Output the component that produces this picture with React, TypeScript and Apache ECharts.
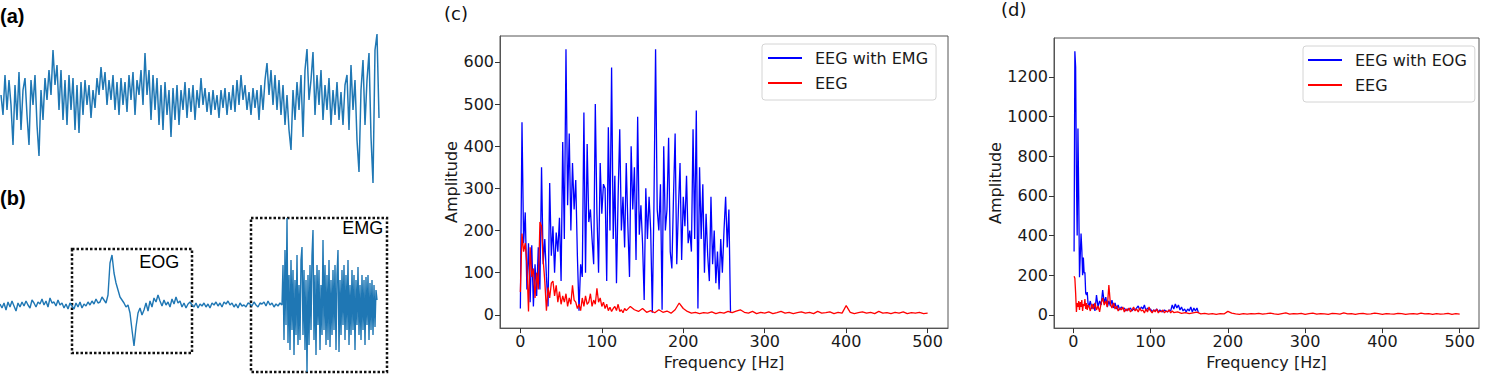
import React, { useEffect, useRef } from "react";
import * as echarts from "echarts";

// ---------- (a) raw EEG trace (amplitude, arbitrary units), sampled every 2 units of time ----------
const aSignal = [
  5, -15, 25, -10, 20, -5, -45, 15, -20, 28,
  -30, 10, 22, -15, -45, 20, -5, 25, -25, -56,
  10, -20, 22, 0, 30, 5, 50, 15, 35, -10,
  30, -20, 20, -25, 25, -10, 22, -30, 15, -33,
  18, -15, 20, -5, 15, -18, 10, -8, 22, 5,
  33, 10, 28, -5, 20, 0, 25, -10, 18, -15,
  22, -5, 18, -12, 25, 0, 28, -15, 20, 5,
  30, -5, 47, 5, 30, -20, 25, -10, 22, -25,
  15, -30, 18, -15, 10, -37, 12, -20, 15, -25,
  10, -10, 18, -18, 12, -12, 15, -20, 10, -8,
  22, -5, 12, -12, 8, -15, 10, -10, 5, -18,
  10, -8, 12, -15, 8, -10, 15, -12, 20, -5,
  25, 0, 15, -10, 8, -15, 12, -8, 10, -20,
  15, -10, 20, 37, 5, 30, -5, 25, -10, 20,
  -15, 15, -25, 5, -30, -50, 10, -20, 18, -10,
  25, -37, 30, 51, 0, 20, 48, -15, 25, -5,
  30, -20, 15, -10, 22, -25, 10, -15, 18, -20,
  8, -25, 15, 25, -30, 35, -10, 20, -40, -72,
  10, 40, -25, 20, 47, -37, -83, 50, 66, -18,
];

// ---------- (b) contaminated EEG: baseline + EOG part (step 2), EMG burst (step 1) ----------
const bBaseline = [
  1, -3, 2, -5, 3, -2,
  4, -1, -6, 2, -2, 3,
  -1, 4, 0, -3, 5, 2,
  -2, 3, 1, 6, 0, 4,
  -2, 7, 2, 3, -1, 5,
  0, 2, -3, 1, -4, 2,
  -1, -4, 2, -2, 3, -3,
  1, -1, 3, 0, 4, 1,
  6, 2, 3, 8, 5, 2,
  10, 42, 50, 32, 22, 15,
  8, 5, 2, -2, 0, -8,
  -25, -41, -22, -8, -3, -10,
  -5, 2, -6, 4, -2, 7,
  3, 10, 4, -1, 5, 0,
  3, -2, 6, 1, 8, 2,
  4, -2, 2, -3, 1, 3,
  0, -2, 2, -3, 1, -1,
  2, -2, 1, -3, 2, 0,
  3, -1, 2, -2, 3, 1,
  4, 0, 2, -2, 1, -3,
  2, -1, 0, -2, 2, 1,
  -1, 3, 0, -2, 2, 1,
  3, -1, 4, 0, 2, -2,
  1, -1, 2, 0,
];
const bEmgStart = 283;
const bEmg = [
  40, -35, 55, -20, 87, -38, 30, -45, 45, -25,
  35, -50, 25, -30, 50, -40, 20, -35, 45, 58,
  -30, 35, -45, 25, -67, 30, -40, 40, -25, 50,
  75, -35, 30, -50, 40, -20, 35, -45, 20, -30,
  65, -25, 40, -40, 30, -35, 45, -42, 25, -30,
  35, -25, 40, -45, 30, 55, -47, 25, -30, 35,
  -20, 40, -35, 30, -25, 45, -40, 20, -30, 35,
  -25, 30, -45, 25, -20, 38, -30, 20, -35, 30,
  -25, 25, -40, 28, -20, 30, -35, 22, -25, 25,
  -30, 20, -22, 15, 5,
];
// artifact windows [start, end] and vertical extent [top, bottom]
const eogWindow = [72, 192];
const eogExtent = [56, -48];
const emgWindow = [251, 387];
const emgExtent = [87, -67];

// ---------- (c) spectrum: EEG with EMG vs EEG ----------
const freqTicks = [0, 100, 200, 300, 400, 500];
const cAmpTicks = [0, 100, 200, 300, 400, 500, 600];
const cBlue = [
  15, 457, 170, 243, 60, 170, 30, 165, 20, 120,
  45, 160, 60, 350, 120, 180, 90, 20, 313, 140,
  210, 100, 195, 150, 230, 80, 410, 180, 630, 260,
  430, 200, 360, 250, 320, 140, 10, 120, 90, 480,
  100, 405, 220, 250, 180, 120, 500, 240, 100, 360,
  240, 310, 300, 80, 445, 200, 587, 180, 330, 75,
  280, 440, 200, 280, 160, 360, 210, 90, 400, 250,
  350, 130, 470, 190, 260, 170, 35, 300, 180, 280,
  200, 5, 260, 630, 250, 200, 310, 12, 400, 200,
  250, 420, 150, 110, 280, 430, 120, 250, 360, 130,
  280, 210, 330, 170, 200, 150, 440, 180, 485, 15,
  350, 180, 310, 100, 240, 140, 80, 280, 120, 200,
  75, 150, 60, 180, 100, 200, 280, 160, 250, 5,
];
const cRedLow = [
  54, 193, 150, 170, 120, 8, 160, 90, 110, 40,
  100, 60, 220, 210, 130, 80, 10, 65, 40, 75,
  80, 45, 70, 30, 55, 25, 45, 30, 50, 20,
  40, 25, 70, 35, 30, 15, 25, 10, 40, 20,
  45, 25, 30, 50, 20, 35, 25, 63, 30, 40,
  20, 30, 15, 25, 10, 18, 8, 15, 20, 10,
  25, 8, 12, 5, 15, 10,
];
const cRedHigh = [
  20, 12, 8, 15, 6, 10, 5, 12, 6, 9,
  4, 12, 28, 15, 8, 4, 6, 3, 5, 4,
  7, 3, 6, 4, 8, 5, 9, 12, 6, 4,
  8, 3, 6, 4, 7, 3, 5, 8, 4, 6,
  3, 5, 7, 4, 6, 3, 8, 4, 5, 7,
  3, 6, 4, 22, 6, 3, 5, 7, 4, 6,
  3, 8, 4, 5, 3, 6, 4, 7, 3, 5,
  4, 6, 3, 4,
];

// ---------- (d) spectrum: EEG with EOG vs EEG ----------
const dAmpTicks = [0, 200, 400, 600, 800, 1000, 1200];
const dBlueFine = [
  320, 1330, 1250, 700, 400, 940, 600, 190, 300, 410,
  330, 200, 290, 210, 215, 110, 100, 115, 60, 40,
];
const dBlueCoarse = [
  70, 30, 55, 20, 100, 40, 70, 50, 125, 60,
  90, 40, 70, 45, 75, 35, 60, 30, 50, 25,
  40, 30, 35, 20, 30, 25, 35, 20, 30, 25,
  35, 45, 25, 40, 30, 50, 20, 35, 25, 30,
  15, 25, 20, 30, 15, 25, 20, 15, 25, 20,
  15, 25, 20, 50, 30, 55, 35, 50, 25, 40,
  20, 30, 15, 30, 20, 40, 15, 35, 20, 35,
  10,
];
const dRedFine = [
  195, 185, 110, 15, 60, 40, 70, 25, 65, 40,
  75, 20, 55, 45, 80, 30, 60, 25, 50, 45,
];
const dRedMid = [
  20, 55, 30, 60, 25, 45, 15, 60, 85, 50,
  70, 40, 150, 55, 35, 60, 30, 45, 20, 35,
  25, 40, 15, 30, 20, 35, 15, 25, 40, 20,
  30, 15, 35, 20, 25, 10, 30, 15, 40, 20,
  10, 25, 15, 30, 10, 20, 15, 25, 10, 20,
  15, 25, 10, 20, 12,
];
const dRedHigh = [
  15, 8, 12, 6, 10, 14, 5, 8, 4, 7,
  3, 6, 5, 18, 9, 5, 3, 6, 4, 7,
  5, 8, 4, 6, 9, 5, 3, 7, 10, 4,
  6, 5, 8, 3, 6, 9, 4, 7, 5, 3,
  8, 6, 4, 10, 5, 7, 3, 6, 8, 4,
  5, 9, 6, 3, 7, 5, 4, 8, 6, 3,
  5, 7, 4, 9, 5, 6, 3, 7, 4, 5,
  8, 3, 6, 4,
];

const seg = (start: number, step: number, vals: number[]) =>
  vals.map((v, i) => [start + i * step, v]);

const FONT = "DejaVu Sans";
const SANS = "Liberation Sans";
const BLUE = "#1f77b4";

function spectrumAxes(gridIndex: number, yTicks: number[], yMin: number, yMax: number, yGap: number) {
  const axisLine = { show: true, onZero: false, lineStyle: { color: "#555", width: 1 } };
  const tick = (vals: number[]) => ({ show: true, customValues: vals, length: 5, lineStyle: { color: "#333", width: 1 } });
  const label = (vals: number[], margin: number) => ({
    customValues: vals, fontSize: 16, color: "#1a1a1a", fontFamily: FONT, margin,
    formatter: (v: number) => String(v),
  });
  const nameStyle = { fontSize: 16, color: "#1a1a1a", fontFamily: FONT };
  return {
    x: {
      type: "value", gridIndex, min: -25, max: 525,
      axisLine, axisTick: tick(freqTicks), axisLabel: label(freqTicks, 5), splitLine: { show: false },
      name: "Frequency [Hz]", nameLocation: "middle", nameGap: 23, nameTextStyle: nameStyle,
    },
    y: {
      type: "value", gridIndex, min: yMin, max: yMax,
      axisLine, axisTick: tick(yTicks), axisLabel: label(yTicks, 6), splitLine: { show: false },
      name: "Amplitude", nameLocation: "middle", nameRotate: 90, nameGap: yGap, nameTextStyle: nameStyle,
    },
  };
}

export default function App() {
  const ref = useRef<HTMLDivElement>(null);
  useEffect(() => {
    document.body.style.margin = "0";
    const chart = echarts.init(ref.current!, null, { renderer: "svg" });
    const c = spectrumAxes(2, cAmpTicks, -31.5, 661.5, 39);
    const d = spectrumAxes(3, dAmpTicks, -66.5, 1396.5, 42);
    const lineBase = { type: "line", showSymbol: false, symbol: "none", silent: true };
    const legendBase = {
      orient: "vertical", icon: "rect", itemWidth: 34, itemHeight: 2, itemGap: 9,
      borderColor: "#d4d4d4", borderWidth: 1, borderRadius: 3, backgroundColor: "rgba(255,255,255,0.85)",
      textStyle: { fontSize: 16, lineHeight: 16, color: "#1a1a1a", fontFamily: FONT, padding: [0, 0, 0, 8] },
      selectedMode: false,
    };
    chart.setOption({
      animation: false,
      grid: [
        { left: 1, top: 30, width: 390, height: 160 },
        { left: 0, top: 200, width: 390, height: 175 },
        { left: 500, top: 36, width: 448, height: 297, show: true, borderColor: "#555", borderWidth: 1 },
        { left: 1054, top: 38, width: 425, height: 292, show: true, borderColor: "#555", borderWidth: 1 },
      ],
      xAxis: [
        { type: "value", gridIndex: 0, min: 0, max: 390, show: false },
        { type: "value", gridIndex: 1, min: 0, max: 390, show: false },
        c.x,
        d.x,
      ],
      yAxis: [
        { type: "value", gridIndex: 0, min: -90, max: 70, show: false },
        { type: "value", gridIndex: 1, min: -70, max: 105, show: false },
        c.y,
        d.y,
      ],
      legend: [
        { ...legendBase, left: 762, top: 44, padding: [6, 8, 9, 6], data: ["EEG with EMG", "EEG"] },
        { ...legendBase, left: 1303, top: 46, padding: [6, 8, 9, 5], data: ["EEG with EOG", "EEG"] },
      ],
      series: [
        {
          ...lineBase, name: "raw", xAxisIndex: 0, yAxisIndex: 0,
          data: seg(0, 2, aSignal), lineStyle: { color: BLUE, width: 1.5 }, itemStyle: { color: BLUE },
        },
        {
          ...lineBase, name: "contaminated", xAxisIndex: 1, yAxisIndex: 1,
          data: [...seg(0, 2, bBaseline), ...seg(bEmgStart, 1, bEmg)],
          lineStyle: { color: BLUE, width: 1.4 }, itemStyle: { color: BLUE },
          markArea: {
            silent: true,
            itemStyle: { color: "rgba(0,0,0,0)", borderColor: "#111", borderWidth: 2.5, borderType: [2.5, 2] },
            label: { show: true, position: "insideTopRight", distance: 5, fontSize: 18, color: "#000", fontFamily: SANS },
            data: [
              [
                { name: "EOG", xAxis: eogWindow[0], yAxis: eogExtent[0], label: { offset: [-9, 0] } },
                { xAxis: eogWindow[1], yAxis: eogExtent[1] },
              ],
              [
                { name: "EMG", xAxis: emgWindow[0], yAxis: emgExtent[0], label: { offset: [0, -3] } },
                { xAxis: emgWindow[1], yAxis: emgExtent[1] },
              ],
            ],
          },
        },
        {
          ...lineBase, name: "EEG with EMG", xAxisIndex: 2, yAxisIndex: 2,
          data: seg(0, 2, cBlue), lineStyle: { color: "#0000ff", width: 1.3 }, itemStyle: { color: "#0000ff" },
        },
        {
          ...lineBase, name: "EEG", xAxisIndex: 2, yAxisIndex: 2,
          data: [...seg(0, 2, cRedLow), ...seg(135, 5, cRedHigh)],
          lineStyle: { color: "#ff0000", width: 1.3 }, itemStyle: { color: "#ff0000" },
        },
        {
          ...lineBase, name: "EEG with EOG", xAxisIndex: 3, yAxisIndex: 3,
          data: [...seg(1, 1, dBlueFine), ...seg(22, 2, dBlueCoarse)],
          lineStyle: { color: "#0000ff", width: 1.3 }, itemStyle: { color: "#0000ff" },
        },
        {
          ...lineBase, name: "EEG", xAxisIndex: 3, yAxisIndex: 3,
          data: [...seg(1, 1, dRedFine), ...seg(22, 2, dRedMid), ...seg(135, 5, dRedHigh)],
          lineStyle: { color: "#ff0000", width: 1.3 }, itemStyle: { color: "#ff0000" },
        },
      ],
      graphic: [
        { type: "text", left: 0, top: 6, style: { text: "(a)", fontSize: 20, fontWeight: "bold", fontFamily: SANS, fill: "#000" } },
        { type: "text", left: 0, top: 188, style: { text: "(b)", fontSize: 20, fontWeight: "bold", fontFamily: SANS, fill: "#000" } },
        { type: "text", left: 444, top: 4, style: { text: "(c)", fontSize: 18, fontFamily: FONT, fill: "#111" } },
        { type: "text", left: 1001, top: 0, style: { text: "(d)", fontSize: 18, fontFamily: FONT, fill: "#111" } },
      ],
    });
    return () => chart.dispose();
  }, []);
  return <div ref={ref} style={{ position: "absolute", left: 0, top: 0, width: 1500, height: 375 }} />;
}
